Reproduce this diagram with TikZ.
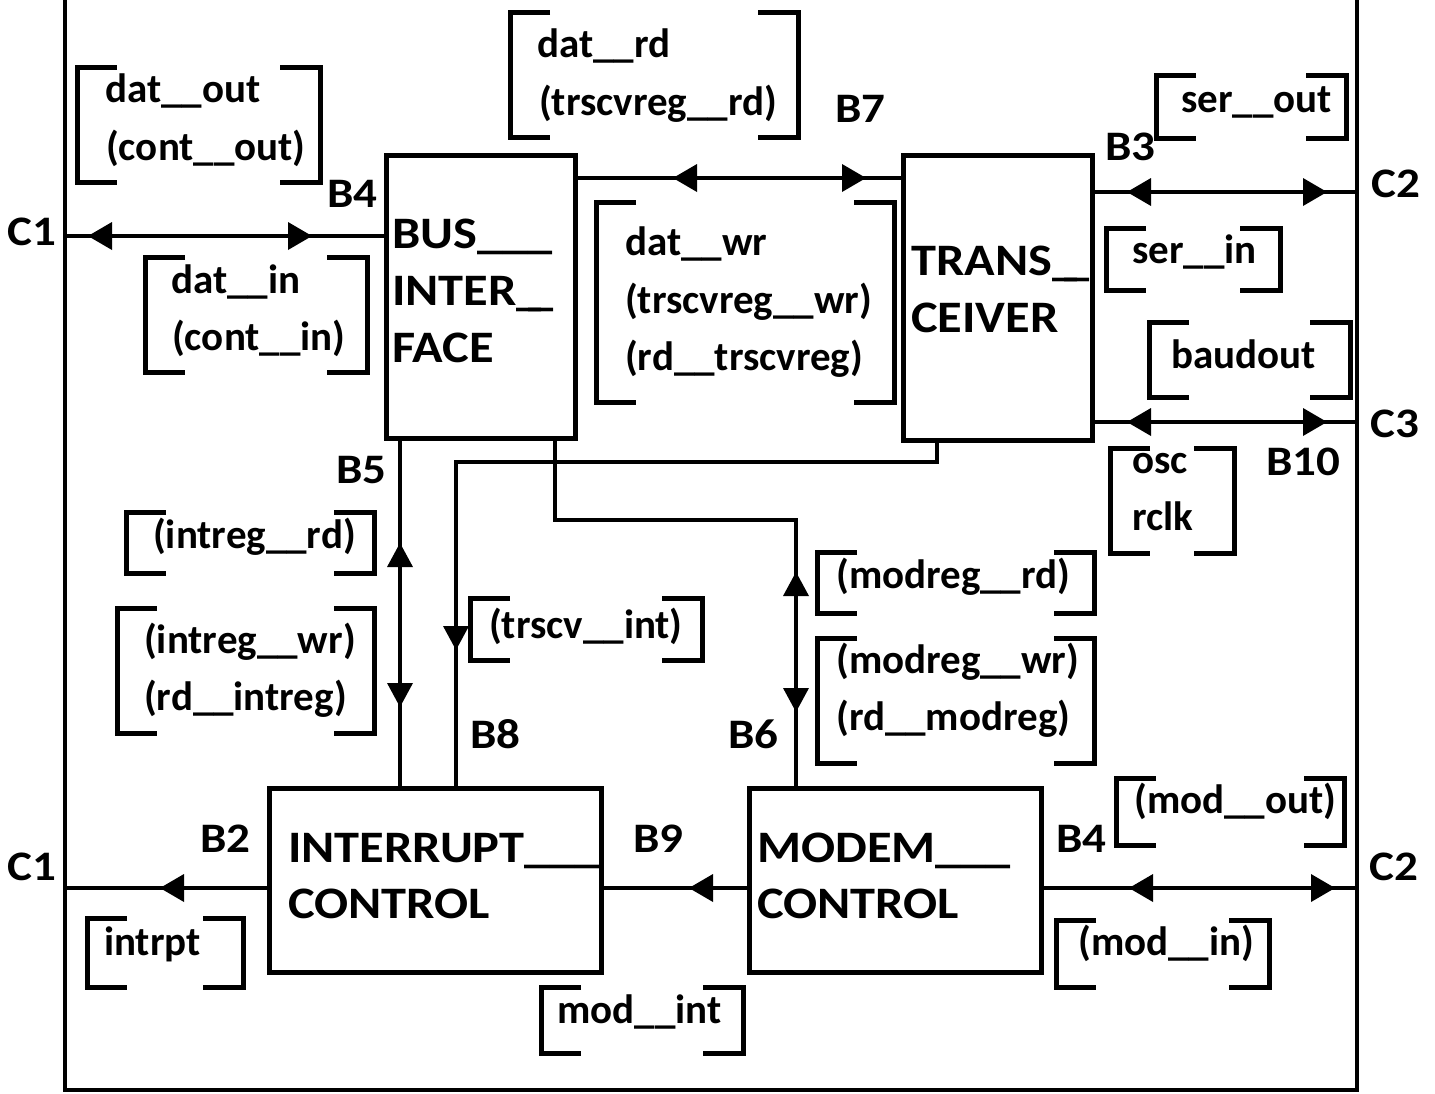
\documentclass[tikz,border=0pt]{standalone}
\usepackage{fontspec}
\setmainfont{Carlito}
\newfontfamily\capfont{Carlito}[FakeStretch=1.12]
\begin{document}
\begin{tikzpicture}[x=1pt,y=-1pt,
  blk/.style={draw,line width=5pt,rectangle,inner sep=0pt,outer sep=0pt},
  conn/.style={line width=4pt},
  brk/.style={line width=5pt},
  txt/.style={anchor=base west,inner sep=0pt,font=\fontsize{41}{48}\selectfont\bfseries},
  btxt/.style={anchor=base west,inner sep=0pt,font=\capfont\fontsize{45}{52}\selectfont\bfseries},
  lbl/.style={anchor=base west,inner sep=0pt,font=\capfont\fontsize{42}{48}\selectfont\bfseries}]
\useasboundingbox (0,0) rectangle (1435,1093);
\newcommand\tipR[2]{\fill (#1,#2) -- (#1-24,#2-14) -- (#1-24,#2+14) -- cycle;}
\newcommand\tipL[2]{\fill (#1,#2) -- (#1+24,#2-14) -- (#1+24,#2+14) -- cycle;}
\newcommand\tipU[2]{\fill (#1,#2) -- (#1-13,#2+24) -- (#1+13,#2+24) -- cycle;}
\newcommand\tipD[2]{\fill (#1,#2) -- (#1-13,#2-24) -- (#1+13,#2-24) -- cycle;}
\newcommand\brk[4]{\draw[brk] (#1+40,#2) -- (#1,#2) -- (#1,#4) -- (#1+40,#4);
  \draw[brk] (#3-40,#2) -- (#3,#2) -- (#3,#4) -- (#3-40,#4);}
\newcommand\dus{\_\kern-13pt\_}
% frame
\draw[line width=4pt] (65,0) -- (65,1090) -- (1357,1090) -- (1357,0);
% blocks
\node[blk,minimum width=189pt,minimum height=283pt] (bus) at (480.5,296.5) {};
\node[blk,minimum width=189pt,minimum height=285pt] (trans) at (997.5,297.5) {};
\node[blk,minimum width=332pt,minimum height=184pt] (intr) at (435,880) {};
\node[blk,minimum width=292pt,minimum height=184pt] (modem) at (895,880) {};
% block texts
\node[btxt] (busa) at (392,248) {BUS\_\_\_};
\node[btxt] (busb) at (392,305) {INTER\dus};
\node[btxt] (busc) at (392,362) {FACE};
\node[btxt] (tra) at (911,275) {TRANS\dus};
\node[btxt] (trb) at (911,332) {CEIVER};
\node[btxt] (ina) at (288,862) {INTERRUPT\_\_\_};
\node[btxt] (inb) at (288,918) {CONTROL};
\node[btxt] (moa) at (757,862) {MODEM\_\_\_};
\node[btxt] (mob) at (757,918) {CONTROL};
% coordinates on frame
\coordinate (fC1a) at (65,236);
\coordinate (fC2a) at (1357,192);
\coordinate (fC3) at (1357,422);
\coordinate (fC1b) at (65,888);
\coordinate (fC2b) at (1357,888);
\coordinate (b7y) at (0,178);
\coordinate (b8a) at (937,462);
\coordinate (b8b) at (456,462);
\coordinate (b6a) at (555,520);
\coordinate (b6b) at (796,520);
\coordinate (b5x) at (400,0);
% connectors
\draw[conn] (fC1a) -- (fC1a -| bus.west);
\tipL{88}{236} \tipR{312}{236}
\draw[conn] (b7y -| bus.east) -- (b7y -| trans.west);
\tipL{673}{178} \tipR{866}{178}
\draw[conn] (fC2a -| trans.east) -- (fC2a);
\tipL{1127}{192} \tipR{1327}{192}
\draw[conn] (fC3 -| trans.east) -- (fC3);
\tipL{1127}{422} \tipR{1327}{422}
\draw[conn] (b5x |- bus.south) -- (b5x |- intr.north);
\tipU{400}{543} \tipD{400}{707}
\draw[conn] (b8a |- trans.south) -- (b8a) -- (b8b) -- (b8b |- intr.north);
\tipD{456}{650}
\draw[conn] (b6a |- bus.south) -- (b6a) -- (b6b) -- (b6b |- modem.north);
\tipU{796}{572} \tipD{796}{712}
\draw[conn] (fC1b -| intr.west) -- (fC1b);
\tipL{160}{888}
\draw[conn] (fC1b -| modem.west) -- (fC1b -| intr.east);
\tipL{689}{888}
\draw[conn] (fC2b -| modem.east) -- (fC2b);
\tipL{1129}{888} \tipR{1335}{888}
% brackets
\brk{77}{67}{320}{182}
\brk{145}{257}{367}{372}
\brk{510}{12}{798}{137}
\brk{596}{202}{894}{402}
\brk{1156}{75}{1346}{138}
\brk{1106}{228}{1280}{290}
\brk{1149}{322}{1350}{397}
\brk{1110}{448}{1234}{553}
\brk{126}{512}{374}{573}
\brk{117}{608}{374}{733}
\brk{470}{598}{702}{660}
\brk{817}{552}{1094}{613}
\brk{817}{638}{1094}{763}
\brk{87}{918}{243}{987}
\brk{541}{987}{743}{1053}
\brk{1116}{778}{1344}{845}
\brk{1056}{920}{1269}{987}
% bracket texts
\node[txt] (s1a) at (105,102) {dat\_\_out};
\node[txt] (s1b) at (106,160) {(cont\_\_out)};
\node[txt] (s2a) at (171,293) {dat\_\_in};
\node[txt] (s2b) at (172,350) {(cont\_\_in)};
\node[txt] (s3a) at (537,57) {dat\_\_rd};
\node[txt] (s3b) at (539,115) {(trscvreg\_\_rd)};
\node[txt] (s4a) at (625,255) {dat\_\_wr};
\node[txt] (s4b) at (625,313) {(trscvreg\_\_wr)};
\node[txt] (s4c) at (625,370) {(rd\_\_trscvreg)};
\node[txt] (s5) at (1181,112) {ser\_\_out};
\node[txt] (s6) at (1132,263) {ser\_\_in};
\node[txt] (s7) at (1171,368) {baudout};
\node[txt] (s8a) at (1132,473) {osc};
\node[txt] (s8b) at (1132,530) {rclk};
\node[txt] (s9) at (153,548) {(intreg\_\_rd)};
\node[txt] (s10a) at (144,653) {(intreg\_\_wr)};
\node[txt] (s10b) at (144,710) {(rd\_\_intreg)};
\node[txt] (s11) at (489,638) {(trscv\_\_int)};
\node[txt] (s12) at (836,588) {(modreg\_\_rd)};
\node[txt] (s13a) at (836,673) {(modreg\_\_wr)};
\node[txt] (s13b) at (836,730) {(rd\_\_modreg)};
\node[txt] (s14) at (104,955) {intrpt};
\node[txt] (s15) at (557,1023) {mod\_\_int};
\node[txt] (s16) at (1134,813) {(mod\_\_out)};
\node[txt] (s17) at (1078,955) {(mod\_\_in)};
% labels
\node[lbl] (lB4a) at (327,207) {B4};
\node[lbl] (lC1a) at (7,245) {C1};
\node[lbl] (lB7) at (835,122) {B7};
\node[lbl] (lB3) at (1105,160) {B3};
\node[lbl] (lC2a) at (1371,197) {C2};
\node[lbl] (lC3) at (1370,437) {C3};
\node[lbl] (lB10) at (1266,475) {B10};
\node[lbl] (lB5) at (336,483) {B5};
\node[lbl] (lB8) at (470,748) {B8};
\node[lbl] (lB6) at (728,748) {B6};
\node[lbl] (lB2) at (200,852) {B2};
\node[lbl] (lB9) at (633,852) {B9};
\node[lbl] (lC1b) at (7,880) {C1};
\node[lbl] (lB4b) at (1056,852) {B4};
\node[lbl] (lC2b) at (1369,880) {C2};
\end{tikzpicture}
\end{document}
